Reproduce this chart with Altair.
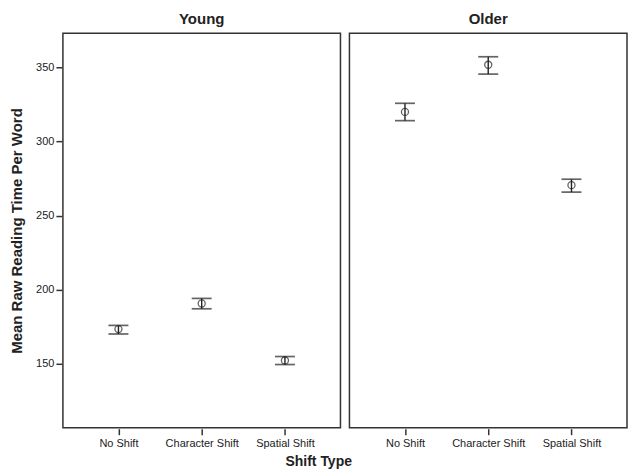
import altair as alt
import pandas as pd

ages = ["Young", "Young", "Young", "Older", "Older", "Older"]
shifts = ["No Shift", "Character Shift", "Spatial Shift",
          "No Shift", "Character Shift", "Spatial Shift"]
means = [173.5, 190.8, 152.3, 320.0, 351.8, 270.6]
lows = [170.2, 187.2, 149.6, 314.1, 345.5, 265.9]
highs = [176.0, 194.2, 155.0, 325.8, 357.2, 274.6]

shift_order = ["No Shift", "Character Shift", "Spatial Shift"]
age_order = ["Young", "Older"]

df = pd.DataFrame({"Age": ages, "Shift": shifts, "Mean": means,
                   "Low": lows, "High": highs})

FONT = "Liberation Sans"
INK = "#222222"

x = alt.X("Shift:N", sort=shift_order,
          scale=alt.Scale(type="point", padding=0.667),
          axis=alt.Axis(title=None, labelAngle=0, labelFontSize=11,
                        labelFont=FONT, labelColor=INK, domain=False,
                        tickColor="#333333", tickWidth=1.5, tickSize=6,
                        labelPadding=3))
yscale = alt.Scale(domain=[107, 373], nice=False, zero=False)
yaxis = alt.Axis(title="Mean Raw Reading Time Per Word",
                 values=[150, 200, 250, 300, 350], grid=False, domain=False,
                 labelFontSize=11, labelFont=FONT, labelColor=INK,
                 tickColor="#333333", tickWidth=1.5, tickSize=6,
                 titleFont=FONT, titleFontSize=15, titleFontWeight="bold",
                 titleColor=INK, titlePadding=11, labelPadding=2)

rule = alt.Chart().mark_rule(color=INK, strokeWidth=1.4).encode(
    x=x, y=alt.Y("Low:Q", scale=yscale, axis=yaxis), y2="High:Q")
tlo = alt.Chart().mark_tick(color=INK, size=20, thickness=1.7,
                            orient="horizontal").encode(
    x=x, y=alt.Y("Low:Q", scale=yscale))
thi = alt.Chart().mark_tick(color=INK, size=20, thickness=1.7,
                            orient="horizontal").encode(
    x=x, y=alt.Y("High:Q", scale=yscale))
pt = alt.Chart().mark_point(shape="circle", size=50, filled=False,
                            color=INK, strokeWidth=1.3).encode(
    x=x, y=alt.Y("Mean:Q", scale=yscale))

layer = alt.layer(rule, tlo, thi, pt, data=df).properties(width=278, height=395)

chart = layer.facet(
    column=alt.Column("Age:N", sort=age_order,
                      header=alt.Header(title=None, labelFontSize=15,
                                        labelFontWeight="bold", labelFont=FONT,
                                        labelColor=INK, labelPadding=5)),
    spacing=7,
).properties(
    title=alt.TitleParams("Shift Type", orient="bottom", anchor="middle",
                          font=FONT, fontSize=14, fontWeight="bold",
                          color=INK, offset=6),
    padding={"left": 1, "top": 4, "right": 0, "bottom": 0},
).configure_view(stroke="#333333", strokeWidth=1.5)

chart.save("out.html", embed_options={"renderer": "svg", "actions": False})
